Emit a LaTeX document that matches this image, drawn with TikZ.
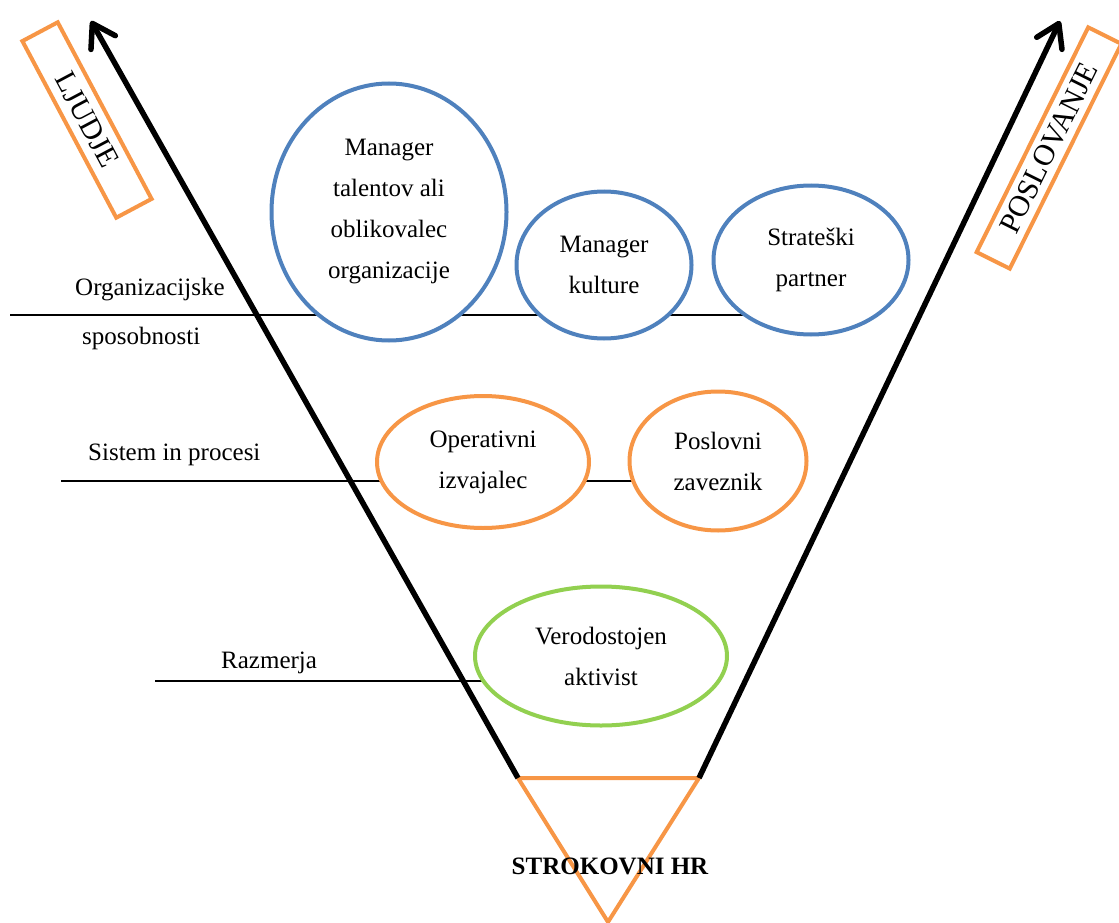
\documentclass[tikz,border=0pt]{standalone}
\usepackage{fontspec}
\setmainfont{Liberation Serif}
\usetikzlibrary{arrows.meta,shapes.geometric,backgrounds}

\definecolor{roleblue}{HTML}{4F81BD}
\definecolor{roleorange}{HTML}{F79646}
\definecolor{rolegreen}{HTML}{92D050}

\tikzset{
  role/.style={ellipse, draw, line width=4pt, fill=white, inner sep=0pt,
               align=center, font=\fontsize{25}{41}\selectfont},
  bluerole/.style={role, draw=roleblue},
  orangerole/.style={role, draw=roleorange},
  greenrole/.style={role, draw=rolegreen},
  levellabel/.style={anchor=west, inner sep=0pt, font=\fontsize{25}{30}\selectfont},
  levelline/.style={line width=1.5pt, black},
  axisarrow/.style={line width=5.5pt, black,
                    -{Straight Barb[length=22pt,width=28pt,round]}},
  sidebox/.style={draw=roleorange, line width=4pt, inner sep=0pt,
                  font=\fontsize{30}{36}\selectfont},
}

\begin{document}
\begin{tikzpicture}[x=1pt,y=1pt]
  \useasboundingbox (0,0) rectangle (1119,-923);

  % base triangle
  \coordinate (tl) at (518,-778);
  \coordinate (tr) at (699,-778);
  \coordinate (apex) at (608,-922);
  \draw[roleorange, line width=4pt, line join=miter] (tl) -- (tr) -- (apex) -- cycle;
  \node (hr) at (610,-866) {\fontsize{25}{30}\selectfont\bfseries STROKOVNI HR};

  % the two axes
  \coordinate (ltip) at (91,-21);
  \coordinate (rtip) at (1060,-21);
  \draw[axisarrow] (tl) -- (ltip);
  \draw[axisarrow] (tr) -- (rtip);

  % axis captions
  \node[sidebox, rotate=-62, minimum width=200pt, minimum height=40pt] (people) at (87,-120) {LJUDJE};
  \node[sidebox, rotate=63.6, minimum width=251pt, minimum height=37pt] (business) at (1049,-148) {POSLOVANJE};

  % roles
  \node[bluerole, minimum width=235pt, minimum height=257pt] (talent) at (389,-212)
    {Manager\\talentov ali\\oblikovalec\\organizacije};
  \node[bluerole, minimum width=175pt, minimum height=147pt] (culture) at (604,-265)
    {Manager\\kulture};
  \node[bluerole, minimum width=195pt, minimum height=149pt] (strategic) at (811,-260)
    {Strateški\\partner};
  \node[orangerole, minimum width=212pt, minimum height=132pt] (operative) at (483,-462)
    {Operativni\\izvajalec};
  \node[orangerole, minimum width=177pt, minimum height=139pt] (ally) at (718,-461)
    {Poslovni\\zaveznik};
  \node[greenrole, minimum width=252pt, minimum height=139pt] (activist) at (601,-656)
    {Verodostojen\\aktivist};

  % level captions
  \node[levellabel] (orgA) at (75,-290) {Organizacijske};
  \node[levellabel] (orgB) at (82,-338) {sposobnosti};
  \node[levellabel] (sys) at (88,-455) {Sistem in procesi};
  \node[levellabel] (rel) at (221,-663) {Razmerja};

  % level lines, kept behind the role ellipses
  \coordinate (orgstart) at (10,-315);
  \coordinate (sysstart) at (61,-481);
  \coordinate (relstart) at (155,-681);
  \begin{scope}[on background layer]
    \draw[levelline] (orgstart) -- (orgstart -| talent);
    \draw[levelline] (talent |- orgstart) -- (orgstart -| culture);
    \draw[levelline] (culture |- orgstart) -- (orgstart -| strategic);
    \draw[levelline] (sysstart) -- (sysstart -| operative);
    \draw[levelline] (operative |- sysstart) -- (sysstart -| ally);
    \draw[levelline] (relstart) -- (relstart -| activist);
  \end{scope}
\end{tikzpicture}
\end{document}
